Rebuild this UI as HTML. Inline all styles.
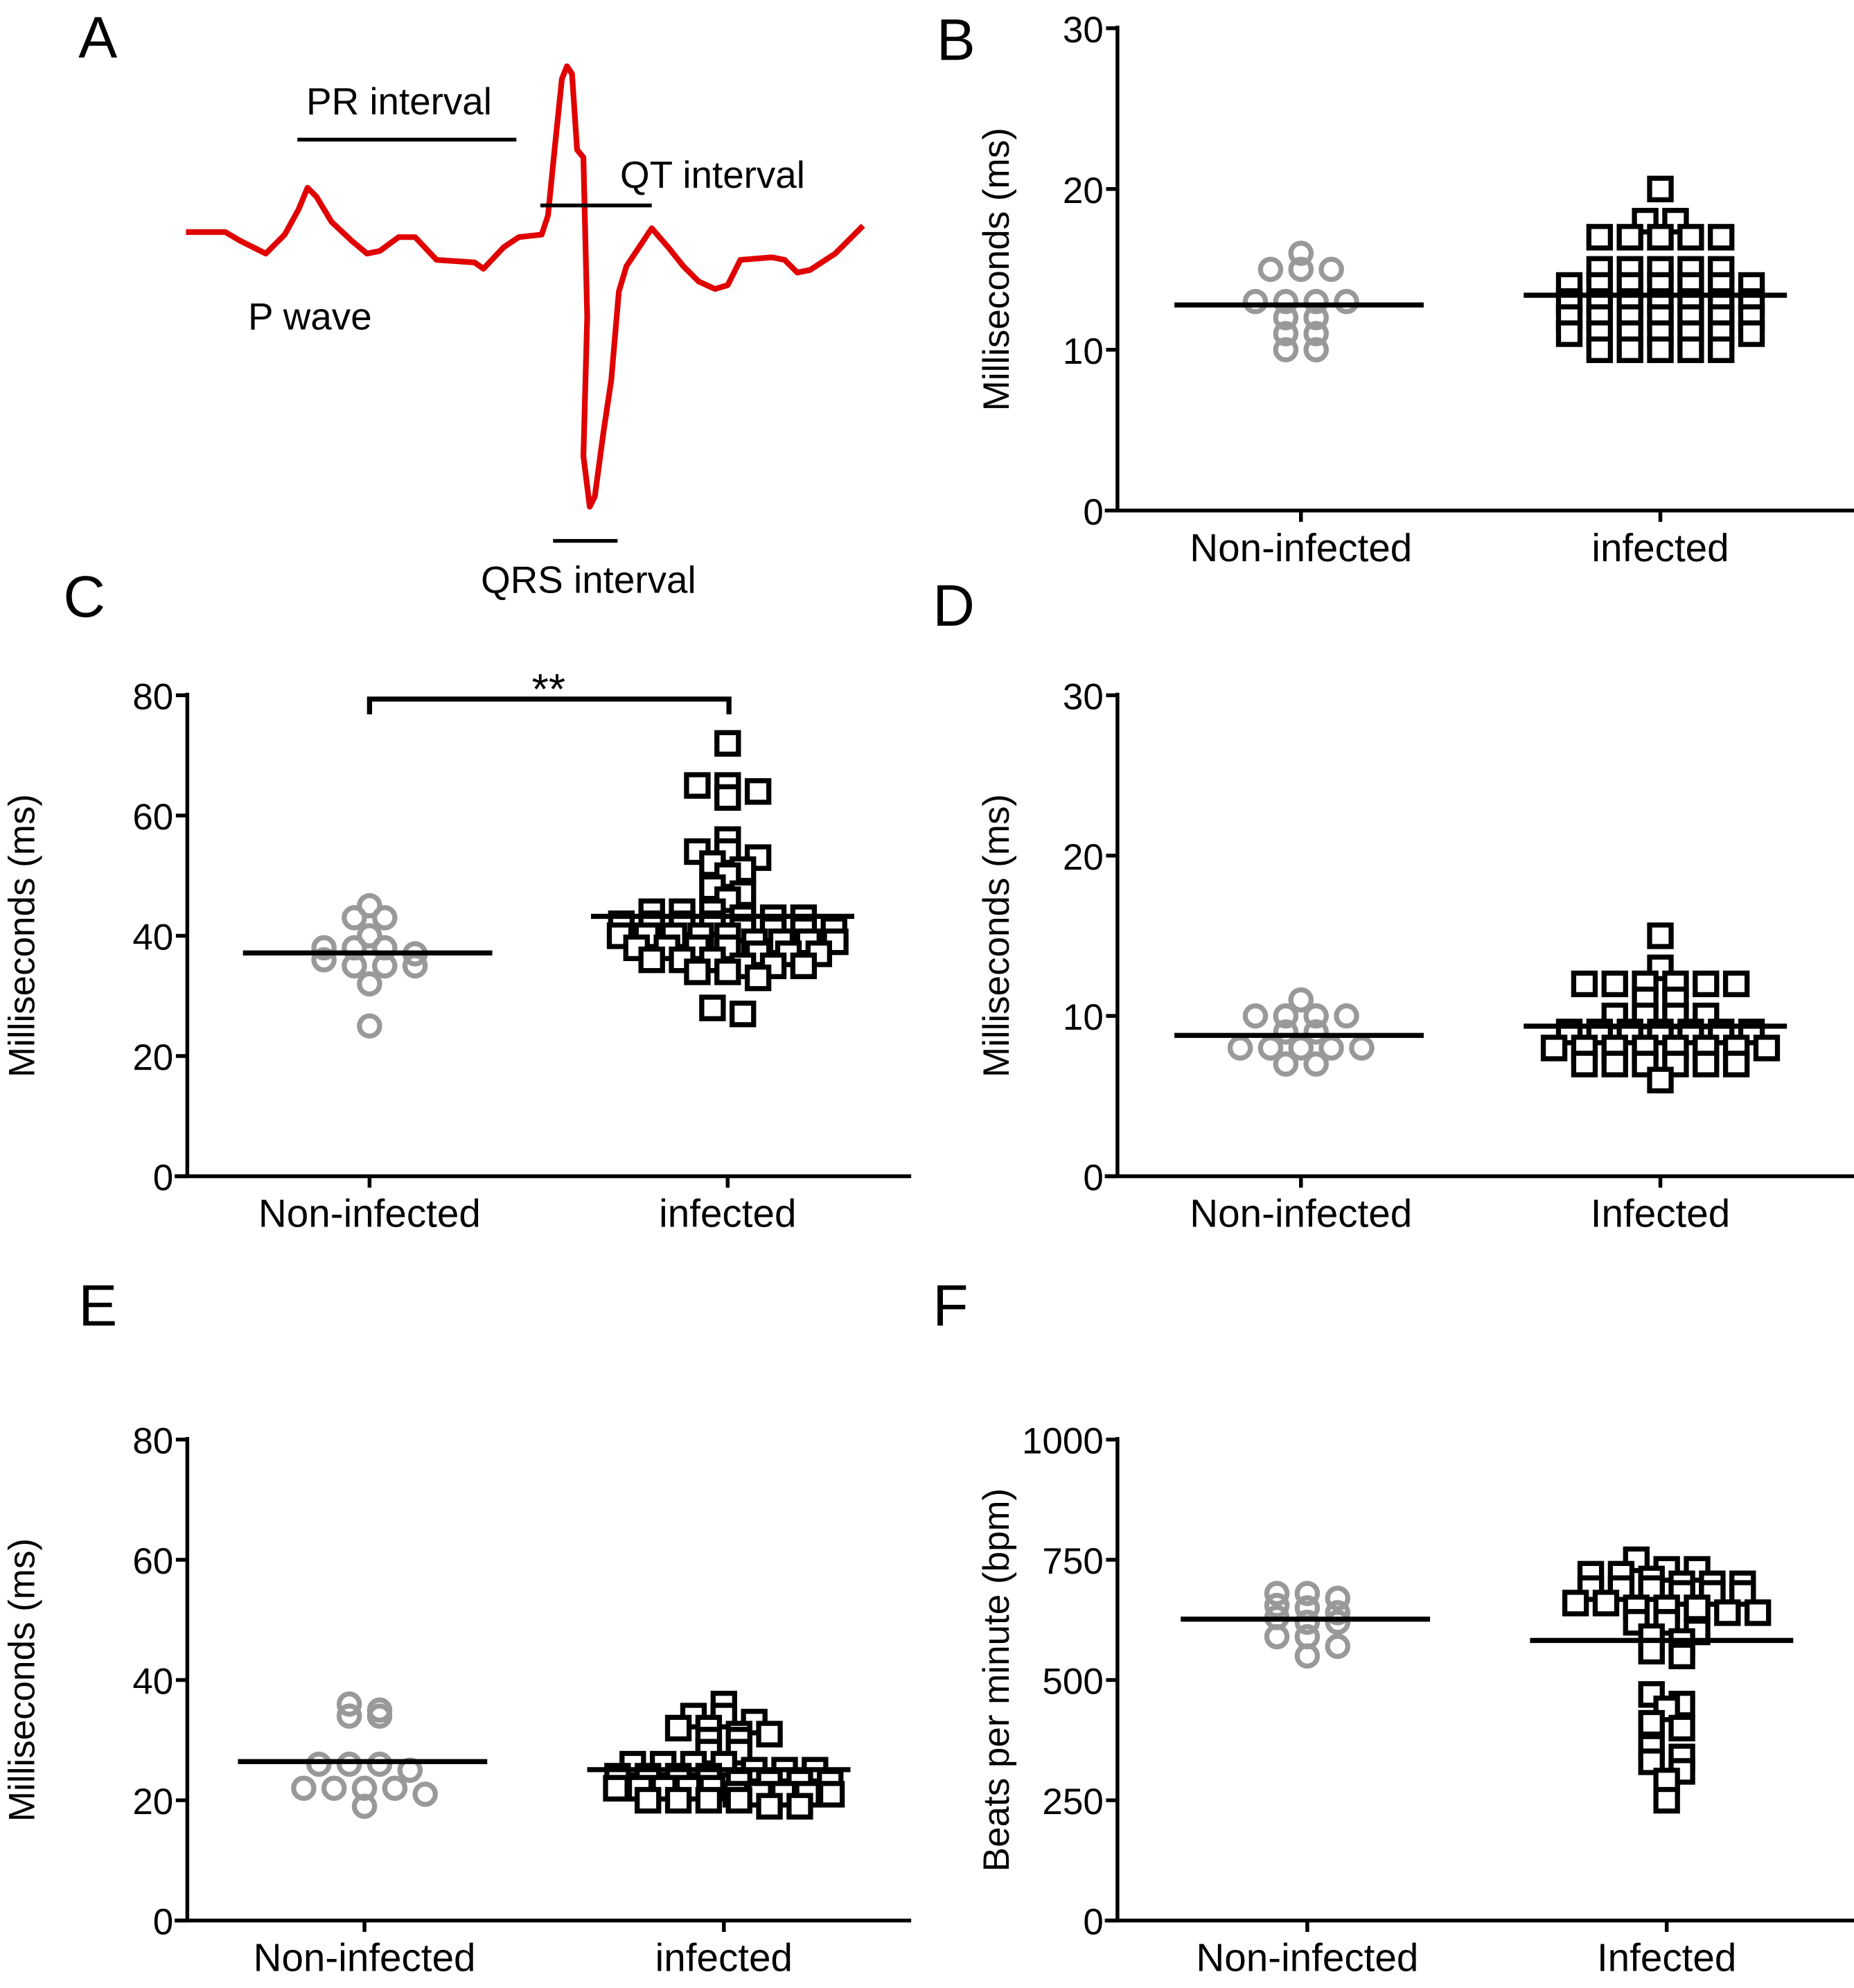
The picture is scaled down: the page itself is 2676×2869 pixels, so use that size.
<!DOCTYPE html>
<html><head><meta charset="utf-8"><style>
html,body{margin:0;padding:0;background:#fff}
svg{display:block}
text{font-family:"Liberation Sans",Arial,sans-serif;fill:#000}
</style></head><body>
<svg id="fig" width="2676" height="2869" viewBox="0 0 1465 1570" xmlns="http://www.w3.org/2000/svg">
<g>
<text x="62" y="45" font-size="46">A</text>
<polyline fill="none" stroke="#e00000" stroke-width="4.5" stroke-linejoin="round" points="147,183 178,183 190,190 210,200 225,185 236,165 243,148 250,155 262,175 278,190 290,200 300,198 315,187 328,187 345,205 375,207 382,212 398,195 410,187 428,185 433,170 438,120 444,62 448,52 452,58 456,118 461,124 464,250 461,360 466,400 470,392 477,340 483,300 489,230 495,210 505,195 515,180 528,195 540,210 552,222 565,228 575,225 585,205 610,203 620,205 630,215 640,213 660,200 682,178"/>
<line x1="235" y1="110" x2="408" y2="110" stroke="#000" stroke-width="3"/>
<text x="242" y="90" font-size="30">PR interval</text>
<line x1="427" y1="162" x2="515" y2="162" stroke="#000" stroke-width="3"/>
<text x="490" y="148" font-size="30">QT interval</text>
<line x1="437" y1="427" x2="488" y2="427" stroke="#000" stroke-width="3"/>
<text x="380" y="468" font-size="30">QRS interval</text>
<text x="196" y="260" font-size="30">P wave</text>
</g>
</svg>
<script>
const bNon=[16,15,15,15,13,13,13,13,12,12,11,11,10,10];
const bInf=[20,18,18,17,17,17,17,17,15,15,15,15,15,14,14,14,14,14,14,14,13,13,13,13,13,13,13,12,12,12,12,12,12,12,11,11,11,11,11,11,11,10,10,10,10,10];
const bTicks=[0,10,20,30];
const cNon=[45,43,43,40,38,38,38,37,36,35,35,35,32,25];
const cInf=[72,65,65,64,63,56,54,54,53,52,51,50,48,47,46,44,44,44,43,43,43,42,42,42,42,41,41,41,41,40,40,40,40,40,39,39,39,39,38,38,38,38,37,37,37,36,36,36,35,35,35,34,34,33,28,27];
const cTicks=[0,20,40,60,80];
const dNon=[11,10,10,10,10,9,9,8,8,8,8,8,7,7];
const dInf=[15,13,12,12,12,12,12,12,11,11,10,10,10,10,9,9,9,9,9,9,9,8,8,8,8,8,8,8,8,7,7,7,7,7,7,6];
const dTicks=[0,10,20,30];
const eNon=[36,35,34,34,26,26,26,25,22,22,22,22,21,19];
const eInf=[36,34,34,33,32,32,31,31,30,30,28,28,26,26,26,26,25,25,25,24,24,24,24,23,23,23,23,22,22,22,22,22,21,21,21,21,21,20,20,20,20,19,19];
const eTicks=[0,20,40,60,80];
const fNon=[680,680,670,655,650,640,630,620,620,590,590,570,550];
const fInf=[750,730,730,720,720,710,700,700,700,690,690,690,680,680,680,660,660,650,650,650,640,640,620,620,600,590,580,560,550,470,450,440,410,400,360,340,330,310,290,250];
const fTicks=[0,250,500,750,1000];

const NS="http://www.w3.org/2000/svg";
const svg=document.getElementById('fig');
function mk(tag,attrs,parent){const e=document.createElementNS(NS,tag);for(const k in attrs)e.setAttribute(k,attrs[k]);(parent||svg).appendChild(e);return e;}
function mean(a){return a.reduce((s,v)=>s+v,0)/a.length;}

function panel(o){
  const g=mk('g',{});
  
  
  const max=o.ticks[o.ticks.length-1];
  const yS=v=>o.y0-(v/max)*(o.y0-o.y1);
  const lt=mk('text',{x:o.lx,y:o.ly,'font-size':46},g);lt.textContent=o.id.toUpperCase();
  
  
  const ax=mk('line',{x1:o.ax,y1:o.y1-2,x2:o.ax,y2:o.y0+1,stroke:'#000','stroke-width':3},g);
  
  
  const xa=mk('line',{x1:o.ax-10,y1:o.y0,x2:o.xe,y2:o.y0,stroke:'#000','stroke-width':3},g);
  
  
  o.ticks.forEach(t=>{
    const y=yS(t);
    const tl=mk('line',{x1:o.ax-9,y1:y,x2:o.ax,y2:y,stroke:'#000','stroke-width':3},g);
    
    
    const tx=mk('text',{x:o.ax-11,y:y+11,'font-size':29,'text-anchor':'end'},g);tx.textContent=t;
    
    
  });
  const yt=mk('text',{x:0,y:0,'font-size':29,'text-anchor':'middle',transform:`translate(${o.tx},${(o.y0+o.y1)/2}) rotate(-90)`},g);
  yt.textContent=o.title;
  
  
  [[o.c1,o.n1,o.nonData,'circle'],[o.c2,o.n2,o.infData,'square']].forEach(([cx,name,data,shape],i)=>{
    const tk=mk('line',{x1:cx,y1:o.y0,x2:cx,y2:o.y0+9,stroke:'#000','stroke-width':3},g);
    
    
    const lb=mk('text',{x:cx,y:o.y0+40,'font-size':31,'text-anchor':'middle'},g);lb.textContent=name;
    
    
    const sorted=data.slice().sort((a,b)=>b-a);
    const rows=[];
    sorted.forEach(v=>{const y=yS(v);const r=rows[rows.length-1];if(r&&Math.abs(y-r.y)<9)r.items.push(v);else rows.push({y:y,items:[v]});});
    rows.forEach(r=>{
      const n=r.items.length;
      const sp=n>1?Math.min(24,170/(n-1)):24;
      r.items.forEach((v,k)=>{
        const x=cx+(k-(n-1)/2)*sp;
        const y=yS(v);
        let m;
        if(shape==='circle'){m=mk('circle',{cx:x,cy:y,r:8,fill:'none',stroke:'#999','stroke-width':4},g);}
        else{m=mk('rect',{x:x-8.5,y:y-8.5,width:17,height:17,fill:'#fff',stroke:'#000','stroke-width':4},g);}
        
        
      });
    });
    const my=yS(mean(data));
    const ml=mk('line',{x1:cx-(i?108:100),y1:my,x2:cx+(i?100:97),y2:my,stroke:'#000','stroke-width':4},g);
    
    
  });
  if(o.sig){
    const by=yS(o.ticks[o.ticks.length-1])+3;
    const br=mk('path',{d:`M${o.c1},${by+12} V${by} H${o.c2+1} V${by+12}`,fill:'none',stroke:'#000','stroke-width':4},g);
    
    
    const st=mk('text',{x:(o.c1+o.c2)/2,y:by+4,'font-size':34,'text-anchor':'middle'},g);st.textContent='**';
    
    
  }
}
panel({id:'b',lx:740,ly:47,ax:883,y0:403,y1:22,xe:1465,c1:1028,c2:1312,n1:'Non-infected',n2:'infected',tx:797,title:'Milliseconds (ms)',ticks:bTicks,nonData:bNon,infData:bInf});
panel({id:'c',lx:50,ly:487,ax:148,y0:929,y1:549,xe:720,c1:292,c2:575,n1:'Non-infected',n2:'infected',tx:27,title:'Milliseconds (ms)',ticks:cTicks,nonData:cNon,infData:cInf,sig:true});
panel({id:'d',lx:737,ly:494,ax:883,y0:929,y1:549,xe:1465,c1:1028,c2:1312,n1:'Non-infected',n2:'Infected',tx:797,title:'Milliseconds (ms)',ticks:dTicks,nonData:dNon,infData:dInf});
panel({id:'e',lx:62,ly:1047,ax:148,y0:1517,y1:1137,xe:720,c1:288,c2:572,n1:'Non-infected',n2:'infected',tx:27,title:'Milliseconds (ms)',ticks:eTicks,nonData:eNon,infData:eInf});
panel({id:'f',lx:737,ly:1047,ax:883,y0:1517,y1:1137,xe:1465,c1:1033,c2:1317,n1:'Non-infected',n2:'Infected',tx:797,title:'Beats per minute (bpm)',ticks:fTicks,nonData:fNon,infData:fInf});
</script>
</body></html>
